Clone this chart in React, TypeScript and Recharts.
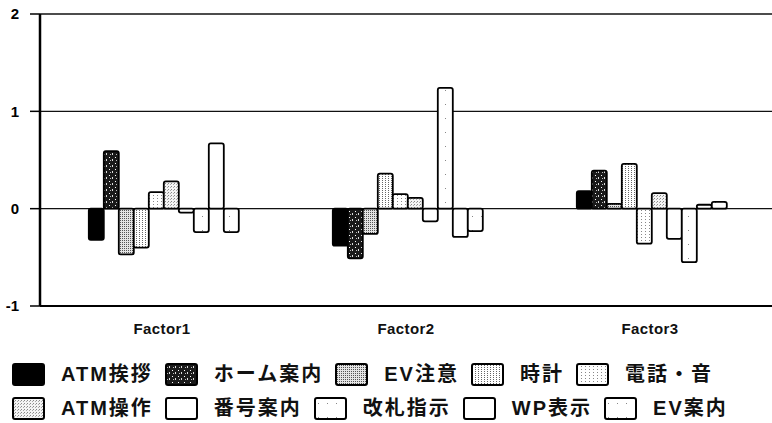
import { BarChart, Bar, XAxis, YAxis, CartesianGrid } from "recharts";

const factors = ['Factor1', 'Factor2', 'Factor3'];
const seriesNames = ['ATM挨拶', 'ホーム案内', 'EV注意', '時計', '電話・音', 'ATM操作', '番号案内', '改札指示', 'WP表示', 'EV案内'];

// loadings per factor, one list per series
const atmGreeting = [-0.32, -0.38, 0.18];
const homeGuide = [0.59, -0.51, 0.39];
const evCaution = [-0.47, -0.26, 0.05];
const clock = [-0.40, 0.36, 0.46];
const phoneSound = [0.17, 0.15, -0.36];
const atmOperation = [0.28, 0.11, 0.16];
const numberGuide = [-0.04, -0.13, -0.31];
const gateGuide = [-0.24, 1.24, -0.55];
const wpDisplay = [0.67, -0.29, 0.04];
const evGuide = [-0.24, -0.23, 0.07];

const yTicks = [-1, 0, 1, 2];

const seriesValues = [atmGreeting, homeGuide, evCaution, clock, phoneSound, atmOperation, numberGuide, gateGuide, wpDisplay, evGuide];
const FILLS = ['#000', 'url(#pHome)', 'url(#pEv)', 'url(#pClock)', 'url(#pPhone)', 'url(#pAtmOp)', '#fff', 'url(#pSparse)', '#fff', 'url(#pSparse)'];

const data = factors.map((f, i) => {
    const row: any = { name: f };
    seriesNames.forEach((s, j) => { row[s] = seriesValues[j][i]; });
    return row;
});

const FONT = '"Liberation Sans", Arial, "Noto Sans CJK JP", sans-serif';

function Patterns() {
    return (
        <defs>
            <pattern id="pHome" width="6" height="6" patternUnits="userSpaceOnUse">
                <rect width="6" height="6" fill="#1a1a1a" />
                <rect x="1" y="1" width="1" height="1" fill="#fff" />
                <rect x="4" y="3" width="1" height="2" fill="#ddd" />
                <rect x="2" y="4" width="1" height="1" fill="#bbb" />
            </pattern>
            <pattern id="pEv" width="2" height="2" patternUnits="userSpaceOnUse">
                <rect width="2" height="2" fill="#e4e4e4" />
                <rect x="0" y="0" width="1" height="1" fill="#555" />
            </pattern>
            <pattern id="pClock" width="3" height="2" patternUnits="userSpaceOnUse">
                <rect width="3" height="2" fill="#fff" />
                <rect x="1" y="0" width="1" height="1" fill="#666" />
            </pattern>
            <pattern id="pPhone" width="4" height="3" patternUnits="userSpaceOnUse">
                <rect width="4" height="3" fill="#fff" />
                <rect x="1" y="0" width="1" height="1" fill="#888" />
            </pattern>
            <pattern id="pAtmOp" width="3" height="3" patternUnits="userSpaceOnUse">
                <rect width="3" height="3" fill="#f4f4f4" />
                <rect x="0" y="0" width="1" height="1" fill="#888" />
                <rect x="2" y="1" width="1" height="1" fill="#aaa" />
            </pattern>
            <pattern id="pSparse" width="9" height="14" patternUnits="userSpaceOnUse">
                <rect width="9" height="14" fill="#fff" />
                <rect x="4" y="6" width="1" height="1" fill="#888" />
            </pattern>
        </defs>
    );
}

function LegendRow({ items }: { items: number[] }) {
    return (
        <div style={{ display: 'flex', alignItems: 'center', height: 30 }}>
            {items.map((j) => (
                <div key={seriesNames[j]} style={{ display: 'flex', alignItems: 'center', marginRight: 12 }}>
                    <svg width={33} height={23} style={{ marginRight: 16 }}>
                        <rect x={1} y={1} width={31} height={21} fill={FILLS[j]} stroke="#000" strokeWidth={2} rx={2} />
                    </svg>
                    <span style={{ fontSize: 20, fontWeight: 700, letterSpacing: 2, color: '#111', lineHeight: '30px' }}>{seriesNames[j]}</span>
                </div>
            ))}
        </div>
    );
}

export default function App() {
    return (
        <div style={{ position: 'absolute', left: 0, top: 0, width: 772, height: 423, background: '#fff', fontFamily: FONT, overflow: 'hidden' }}>
            <BarChart width={772} height={340} data={data} margin={{ top: 14, right: 0, left: 0, bottom: 0 }} barCategoryGap="20%" barGap={0}>
                <Patterns />
                <CartesianGrid vertical={false} stroke="#111" strokeWidth={1.3} />
                <XAxis dataKey="name" height={34} axisLine={{ stroke: '#000', strokeWidth: 2 }} tickLine={false} tickMargin={11}
                    tick={{ fill: '#111', fontSize: 15, fontWeight: 700, letterSpacing: 0.4, fontFamily: FONT }} />
                <YAxis domain={[-1, 2]} ticks={yTicks} width={40} axisLine={{ stroke: '#000', strokeWidth: 2.5 }}
                    tickLine={{ stroke: '#000', strokeWidth: 1.5 }} tickSize={10} tickMargin={11}
                    tick={{ fill: '#000', fontSize: 15, fontWeight: 700, fontFamily: FONT }} />
                {seriesNames.map((s, j) => (
                    <Bar key={s} dataKey={s} fill={FILLS[j]} stroke="#000" strokeWidth={1.8} radius={2} isAnimationActive={false} />
                ))}
            </BarChart>
            <div style={{ position: 'absolute', left: 12, top: 359 }}>
                <LegendRow items={[0, 1, 2, 3, 4]} />
                <div style={{ height: 4 }} />
                <LegendRow items={[5, 6, 7, 8, 9]} />
            </div>
        </div>
    );
}
